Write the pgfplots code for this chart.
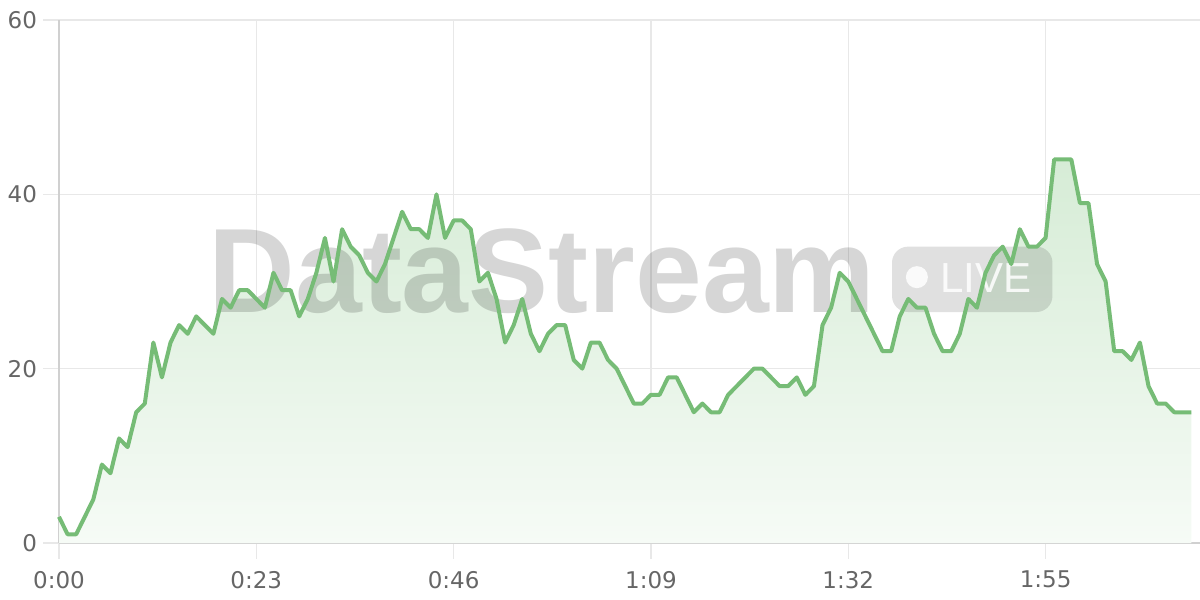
\documentclass[border=0pt]{standalone}
\usepackage{fontspec}
\setmainfont{Liberation Sans}
\newfontfamily\tickfont{DejaVu Sans}
\usepackage{pgfplots}
\usepackage{pgfplotstable}
\pgfplotsset{compat=1.18}
\definecolor{linegreen}{RGB}{118,188,118}
\definecolor{filltop}{RGB}{214,236,214}
\definecolor{fillbot}{RGB}{246,251,246}
\definecolor{gridc}{RGB}{232,232,232}
\definecolor{axisc}{RGB}{208,208,208}
\definecolor{labc}{RGB}{102,102,102}

\pgfplotstableread{
t v
0 3
1 1
2 1
3 3
4 5
5 9
6 8
7 12
8 11
9 15
10 16
11 23
12 19
13 23
14 25
15 24
16 26
17 25
18 24
19 28
20 27
21 29
22 29
23 28
24 27
25 31
26 29
27 29
28 26
29 28
30 31
31 35
32 30
33 36
34 34
35 33
36 31
37 30
38 32
39 35
40 38
41 36
42 36
43 35
44 40
45 35
46 37
47 37
48 36
49 30
50 31
51 28
52 23
53 25
54 28
55 24
56 22
57 24
58 25
59 25
60 21
61 20
62 23
63 23
64 21
65 20
66 18
67 16
68 16
69 17
70 17
71 19
72 19
73 17
74 15
75 16
76 15
77 15
78 17
79 18
80 19
81 20
82 20
83 19
84 18
85 18
86 19
87 17
88 18
89 25
90 27
91 31
92 30
93 28
94 26
95 24
96 22
97 22
98 26
99 28
100 27
101 27
102 24
103 22
104 22
105 24
106 28
107 27
108 31
109 33
110 34
111 32
112 36
113 34
114 34
115 35
116 44
117 44
118 44
119 39
120 39
121 32
122 30
123 22
124 22
125 21
126 23
127 18
128 16
129 16
130 15
131 15
132 15
}\datatable

\begin{document}
\begin{tikzpicture}
\useasboundingbox (0,0) rectangle (600pt,300pt);
\begin{axis}[
  at={(29.5pt,28.5pt)}, anchor=south west,
  scale only axis, width=570.5pt, height=261.5pt,
  xmin=0, xmax=133, ymin=0, ymax=60,
  axis x line=bottom, axis y line=left,
  axis line style={axisc, line width=1pt, -},
  grid=major, major grid style={gridc, line width=0.75pt},
  tick style={gridc, line width=0.75pt},
  tick align=outside, major tick length=8pt,
  xtick={0,23,46,69,92,115},
  xticklabels={0:00,0:23,0:46,1:09,1:32,1:55},
  ytick={0,20,40,60}, yticklabels={0,20,40,60},
  ticklabel style={font=\tickfont\fontsize{11.5}{13}\selectfont, text=labc},
  xticklabel style={yshift=-2.5pt},
  yticklabel style={xshift=0.5pt},
  clip=false,
]
\addplot[draw=none, shade, top color=filltop, bottom color=fillbot] table[x=t,y=v]{\datatable} \closedcycle;
\node[anchor=base west, inner sep=0, text=black, text opacity=0.16, font=\fontsize{60}{60}\selectfont\bfseries] at (axis cs:17.4,26.4) {DataStream};
\fill[black, fill opacity=0.12, rounded corners=8pt] (axis cs:97.1,26.5) rectangle (axis cs:115.8,34.0);
\fill[white, fill opacity=0.85] (axis cs:100.0,30.5) circle[radius=5.5pt];
\node[anchor=base west, inner sep=0, text=white, text opacity=0.85, font=\fontsize{21}{21}\selectfont] at (axis cs:102.7,28.7) {LIVE};
\addplot[linegreen, line width=2pt, line join=round, mark=none] table[x=t,y=v]{\datatable};
\end{axis}
\end{tikzpicture}
\end{document}
